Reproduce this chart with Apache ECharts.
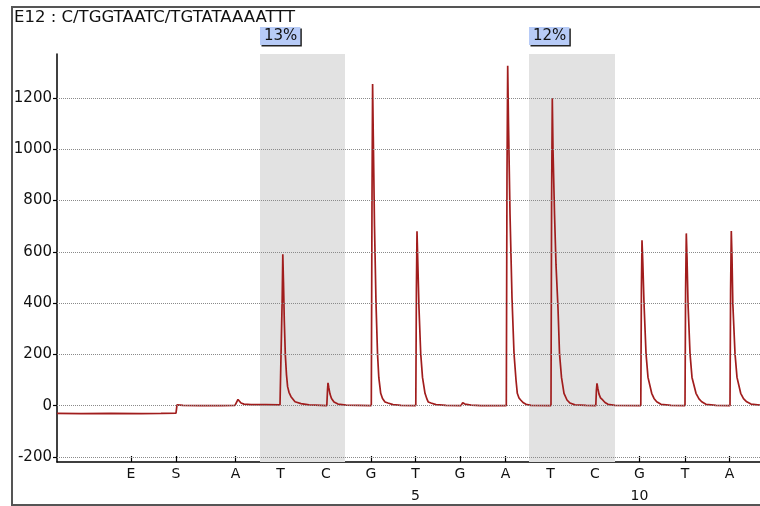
<!DOCTYPE html>
<html>
<head>
<meta charset="utf-8">
<title>E12 pyrogram</title>
<script src="https://cdn.jsdelivr.net/npm/echarts@6/dist/echarts.min.js"></script>
<style>
  html, body { margin: 0; padding: 0; background: #fff; }
  #chart { width: 760px; height: 506px; }
</style>
</head>
<body>
<div id="chart"></div>
<script>
// dispensation order and where each one sits on the run axis
var dispensations = ['E', 'S', 'A', 'T', 'C', 'G', 'T', 'G', 'A', 'T', 'C', 'G', 'T', 'A']
var dispensePos = [0, 45, 104.5, 149.5, 195, 240, 284.5, 329, 374.5, 419.5, 464, 508.5, 554, 598.5]
// base numbering under some dispensations (index into dispensations -> number)
var baseNumbers = { 6: '5', 11: '10' }

var yTicks = [-200, 0, 200, 400, 600, 800, 1000, 1200]

// analysed positions (shaded) and their percentages
var regions = [[129, 214], [398, 484]]
var regionLabels = ['13%', '12%']

// light signal trace: [run position, intensity]
var trace = [
  [-74, -30], [-50, -31], [-20, -30], [10, -31], [30, -30], [45, -29],
  [45.5, -29], [46, 3], [47, 6], [48, 4], [52, 1], [70, 0], [90, 0], [104, 1],
  [106, 2], [107, 24], [108, 20], [110, 10], [113, 6], [120, 4], [135, 4], [149, 3],
  [150.5, 3], [151.2, 420], [151.8, 591], [152.5, 480], [153.3, 330], [154.3, 200], [155.5, 120],
  [156.6, 74], [158, 52], [160, 35], [164, 15], [170, 8], [178, 3], [190, 1], [195.8, 0],
  [196.5, 60], [197, 89], [197.8, 70], [199, 45], [200.5, 28], [203, 14], [207, 6], [215, 2], [240.3, 0],
  [241, 800], [241.6, 1255], [242.3, 1050], [243.5, 700], [245, 400], [246.5, 204], [247.8, 110],
  [249.7, 48], [251.5, 28], [254, 14], [257, 10], [262, 4], [270, 1], [284.8, 0],
  [285.4, 450], [286, 680], [286.8, 560], [288, 380], [289.7, 204], [291.5, 110], [294, 48],
  [296, 25], [297.3, 14], [300, 10], [305, 4], [315, 1], [330, 0],
  [331.7, 11], [334, 6], [340, 2], [350, 0], [375.3, 0],
  [376, 900], [376.7, 1326], [377.5, 1100], [379, 750], [381, 420], [383, 204], [385, 100],
  [386.3, 48], [388, 30], [389.7, 22], [392, 12], [395, 5], [400, 1], [420, 0],
  [420.6, 800], [421.3, 1199], [422, 1000], [423.5, 750], [425, 550], [427, 380], [428.5, 204],
  [430.5, 110], [433, 48], [436, 22], [439, 10], [444, 3], [455, 1], [464.8, 0],
  [465.4, 60], [466, 87], [466.8, 68], [468, 45], [469.5, 30], [471.7, 22], [474, 12], [477, 5], [484, 1], [509.8, 0],
  [510.4, 450], [511, 645], [511.8, 560], [513, 400], [515, 204], [517, 110], [520.7, 48],
  [523, 28], [525.7, 15], [530, 5], [540, 1], [554, 0],
  [554.6, 450], [555.3, 672], [556, 580], [557, 400], [559, 204], [561, 110], [565, 48],
  [568, 26], [570.7, 15], [575, 5], [585, 1], [599, 0],
  [599.6, 450], [600.3, 681], [601, 580], [601.8, 400], [604, 204], [606, 110], [609.7, 48],
  [612.5, 27], [615.7, 15], [620, 6], [629, 2]
]

var font = 'DejaVu Sans'
var chart = echarts.init(document.getElementById('chart'))

function dispenseLabel(value) {
  for (var i = 0; i < dispensePos.length; i++) {
    if (Math.abs(dispensePos[i] - value) < 0.01) {
      return baseNumbers[i] ? dispensations[i] + '\n' + baseNumbers[i] : dispensations[i]
    }
  }
  return ''
}

chart.setOption({
  animation: false,
  title: {
    text: 'E12 : C/TGGTAATC/TGTATAAAATTT',
    left: 14,
    top: 9,
    padding: 0,
    textStyle: { fontFamily: font, fontSize: 16.5, fontWeight: 'normal', color: '#111' }
  },
  graphic: [{
    type: 'rect',
    silent: true,
    shape: { x: 12, y: 7, width: 760, height: 498 },
    style: { fill: 'none', stroke: '#555', lineWidth: 2 }
  }],
  grid: { left: 57, right: 0, top: 54, bottom: 44, outerBoundsMode: 'none', containLabel: false },
  xAxis: {
    type: 'value',
    min: -74,
    max: 629,
    axisLine: { onZero: false, lineStyle: { color: '#000', width: 1.5 } },
    axisTick: { inside: true, length: 6, customValues: dispensePos, lineStyle: { color: '#000', width: 1.2 } },
    axisLabel: {
      customValues: dispensePos,
      formatter: dispenseLabel,
      margin: 1,
      lineHeight: 22,
      fontFamily: font,
      fontSize: 14,
      color: '#111'
    },
    splitLine: { show: false }
  },
  yAxis: {
    type: 'value',
    min: -220,
    max: 1372,
    axisLine: { show: true, onZero: false, lineStyle: { color: '#000', width: 1.5 } },
    axisTick: { show: true, length: 4, customValues: yTicks, lineStyle: { color: '#000', width: 1.2 } },
    axisLabel: {
      customValues: yTicks,
      formatter: function(v) { return String(v) },
      margin: 5,
      fontFamily: font,
      fontSize: 15,
      color: '#111'
    },
    splitLine: { show: false }
  },
  series: [{
    type: 'line',
    z: 1,
    data: [],
    markArea: {
      silent: true,
      itemStyle: { color: '#e2e2e2' },
      label: {
        show: true,
        position: [0, -27],
        fontFamily: font,
        fontSize: 15,
        color: '#111',
        backgroundColor: '#b7cbf7',
        padding: [2, 3, 1, 4],
        shadowColor: '#222',
        shadowOffsetX: 1.5,
        shadowOffsetY: 1.5,
        shadowBlur: 0
      },
      data: regions.map(function(r, i) {
        return [{ name: regionLabels[i], xAxis: r[0], yAxis: 'min' }, { xAxis: r[1], yAxis: 'max' }]
      })
    }
  }, {
    type: 'line',
    z: 2,
    data: [],
    markLine: {
      silent: true,
      symbol: 'none',
      label: { show: false },
      lineStyle: { type: 'dotted', color: '#8a8a8a', width: 1 },
      data: yTicks.map(function(v) { return { yAxis: v } })
    }
  }, {
    type: 'line',
    z: 3,
    data: trace,
    showSymbol: false,
    lineStyle: { color: '#a11d1d', width: 1.7 },
    emphasis: { disabled: true }
  }]
})
</script>
</body>
</html>
